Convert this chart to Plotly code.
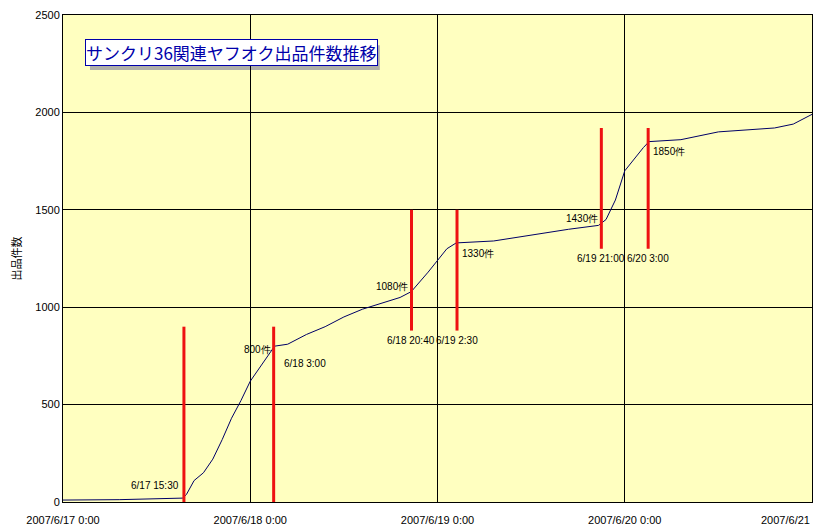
import plotly.graph_objects as go
from datetime import datetime, timedelta

base = datetime(2007, 6, 17)
days = [0, 0.3, 0.64, 0.66, 0.7, 0.75, 0.8, 0.85, 0.9, 0.95, 1.0, 1.05, 1.1, 1.13, 1.2, 1.3, 1.4, 1.5, 1.6, 1.7, 1.8,
        1.86, 1.95, 2.05, 2.1, 2.3, 2.5, 2.7, 2.86, 2.9, 2.95, 3.0, 3.1, 3.13, 3.3, 3.5, 3.8, 3.9, 4.0]
counts = [10, 12, 20, 40, 110, 150, 220, 320, 430, 520, 620, 690, 760, 800, 810, 860, 900, 950, 990, 1020, 1050,
          1080, 1180, 1300, 1330, 1340, 1370, 1400, 1420, 1450, 1550, 1700, 1820, 1850, 1860, 1900, 1920, 1940, 1990]
marker_times = ["2007-06-17 15:30", "2007-06-18 03:00", "2007-06-18 20:40", "2007-06-19 02:30", "2007-06-19 21:00", "2007-06-20 03:00"]
marker_lo = [0, 0, 880, 880, 1300, 1300]
marker_hi = [900, 900, 1500, 1500, 1920, 1920]
time_labels = ["6/17 15:30", "6/18 3:00", "6/18 20:40", "6/19 2:30", "6/19 21:00", "6/20 3:00"]
count_labels = [None, "800件", "1080件", "1330件", "1430件", "1850件"]
tick_vals = ["2007-06-17", "2007-06-18", "2007-06-19", "2007-06-20", "2007-06-21"]
tick_text = ["2007/6/17 0:00", "2007/6/18 0:00", "2007/6/19 0:00", "2007/6/20 0:00", "2007/6/21"]

xs = [base + timedelta(days=d) for d in days]
fig = go.Figure()
fig.add_trace(go.Scatter(x=xs, y=counts, mode="lines", line=dict(color="#000066", width=1), showlegend=False))
for t, lo, hi in zip(marker_times, marker_lo, marker_hi):
    fig.add_trace(go.Scatter(x=[t, t], y=[lo, hi], mode="lines", line=dict(color="#ee1111", width=3), showlegend=False))

f = dict(family="Arial, Liberation Sans", size=10, color="black")
tl = [(0, 485, "right", -3), (1, 363, "left", 8), (2, 340, "center", 0), (3, 340, "center", 0), (4, 258, "center", 0), (5, 258, "center", 0)]
for i, ypx, anc, dx in tl:
    yv = (502 - ypx) / 0.1948
    fig.add_annotation(x=marker_times[i], y=yv, text=time_labels[i], showarrow=False, xanchor=anc, xshift=dx, font=f)
cl = [(1, 349, "right", -1), (2, 286, "right", -1), (3, 253, "left", 3), (4, 218, "right", -1), (5, 151, "left", 3)]
for i, ypx, anc, dx in cl:
    yv = (502 - ypx) / 0.1948
    fig.add_annotation(x=marker_times[i], y=yv, text=count_labels[i], showarrow=False, xanchor=anc, xshift=dx, font=f)

fig.add_annotation(x=tick_vals[-1], xref="x", yref="paper", y=0, yanchor="top", yshift=-10, xanchor="right",
                   text=tick_text[-1], showarrow=False, font=dict(family="Arial, Liberation Sans", size=11, color="black"))

fig.add_shape(type="rect", xref="paper", yref="paper", x0=0.036, x1=0.423, y0=0.887, y1=0.938,
              fillcolor="#b0b0a8", line=dict(width=0), layer="below")
fig.add_annotation(xref="paper", yref="paper", x=0.029, y=0.924, xanchor="left", yanchor="middle",
                   text="サンクリ36関連ヤフオク出品件数推移", showarrow=False,
                   font=dict(family="Noto Sans CJK JP", size=17, color="#0000aa"),
                   bgcolor="white", bordercolor="#0000aa", borderwidth=1, borderpad=0)

axis_common = dict(showline=True, linecolor="black", mirror=True, gridcolor="black", gridwidth=1, automargin=False,
                   ticks="", tickfont=dict(family="Arial, Liberation Sans", size=11, color="black"), zeroline=False)
fig.update_layout(
    width=829, height=530, paper_bgcolor="white", plot_bgcolor="#ffffc0",
    margin=dict(l=55, r=25, t=7, b=36),
    xaxis=dict(range=["2007-06-17", "2007-06-21"], tickvals=tick_vals[:-1], ticktext=tick_text[:-1],
               ticklabelstandoff=8, **axis_common),
    yaxis=dict(range=[0, 2500], tickvals=[0, 500, 1000, 1500, 2000, 2500],
               title=dict(text="出品件数", font=dict(family="Noto Sans CJK JP", size=11, color="black"), standoff=22), **axis_common),
)
fig.write_html("out.html")
